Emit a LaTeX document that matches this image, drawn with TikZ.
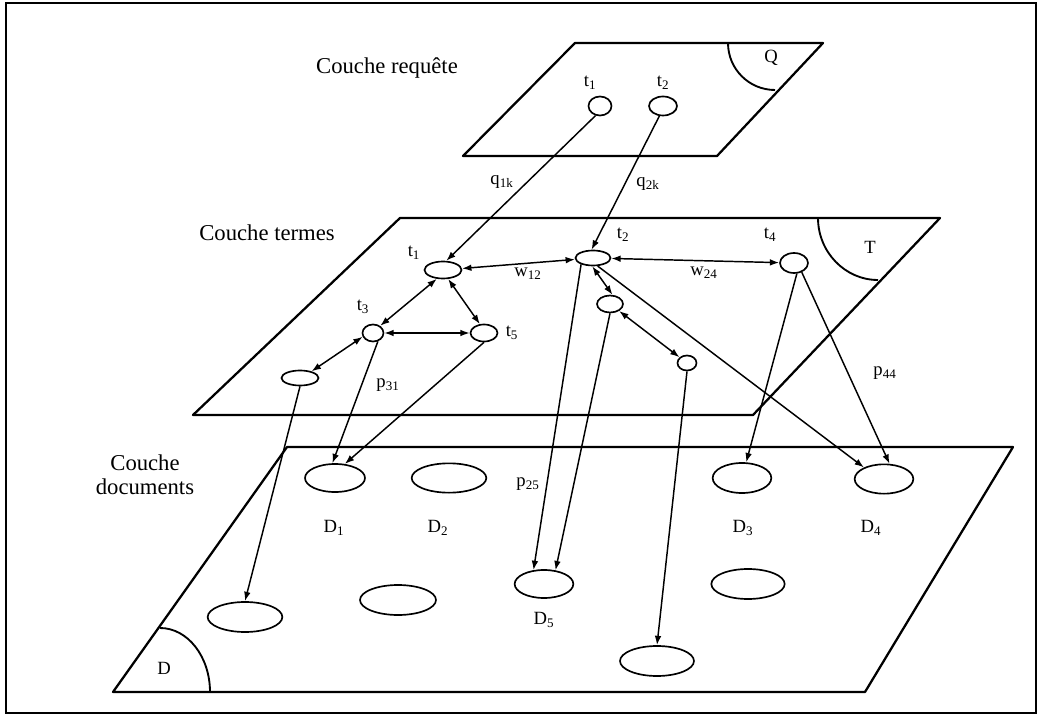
\documentclass[tikz,border=0pt]{standalone}
\usepackage{fontspec}
\setmainfont{Liberation Serif}
\usetikzlibrary{shapes.geometric,arrows.meta}
\begin{document}
\begin{tikzpicture}[x=0.75pt,y=-0.75pt,
  plane/.style={line width=1.7pt, line join=round},
  corner/.style={line width=1.4pt},
  node/.style={ellipse, draw, line width=1.25pt, inner sep=0pt, fill=white},
  sz/.style 2 args={minimum width=#1pt, minimum height=#2pt},
  tip/.tip={Latex[length=7pt,width=5pt]},
  link/.style={line width=1.1pt, -tip},
  both/.style={line width=1.1pt, tip-tip},
  layer/.style={font=\fontsize{17}{18}\selectfont, align=center, inner sep=0pt},
  lbl/.style={font=\fontsize{14}{16}\selectfont, inner sep=0pt},
]
% page and frame
\useasboundingbox (0,0) rectangle (1042,716);
\fill[white] (0,0) rectangle (1042,716);
\draw[line width=1.5pt] (6,3) rectangle (1036,713);

% the three layers
\draw[plane] (463,156) -- (717,156) -- (823,43) -- (575,43) -- cycle;
\draw[plane] (193,415) -- (753,415) -- (940,218) -- (400,218) -- cycle;
\draw[plane] (113,692) -- (865,692) -- (1013,447) -- (287,447) -- cycle;

% corner marks of the layers
\draw[corner] (728,43) .. controls (728,69) and (749,90) .. (775,90);
\draw[corner] (818,218) .. controls (818,252) and (845,280) .. (878,280);
\draw[corner] (160,628) .. controls (188,628) and (210,657) .. (210,692);
\node[lbl] (Q) at (771,58) {Q};
\node[lbl] (T) at (870,247) {T};
\node[lbl] (D) at (164,668) {D};

% layer names
\node[layer] (Lq) at (387,68) {Couche requête};
\node[layer] (Lt) at (267,233) {Couche termes};
\node[layer] (Ld) at (145,475) {Couche\\documents};

% query layer
\node[node, sz={17.25}{14.25}] (q1) at (600,106) {};
\node[node, sz={21}{14.25}] (q2) at (663,106) {};
\node[lbl] (lq1) at (590,83) {t\textsubscript{1}};
\node[lbl] (lq2) at (663,83) {t\textsubscript{2}};

% term layer
\node[node, sz={27.75}{12.75}] (t1) at (443,270) {};
\node[node, sz={26.25}{11.25}] (t2) at (593,258) {};
\node[node, sz={21}{15}] (t4) at (794,263) {};
\node[node, sz={15.75}{12.75}] (t3) at (373,333) {};
\node[node, sz={20.25}{12.75}] (t5) at (484,333) {};
\node[node, sz={27.75}{11.25}] (t6) at (300,378) {};
\node[node, sz={19.5}{12.75}] (t7) at (610,304) {};
\node[node, sz={14.25}{11.25}] (t8) at (687,363) {};
\node[lbl] (lt1) at (414,253) {t\textsubscript{1}};
\node[lbl] (lt2) at (623,235) {t\textsubscript{2}};
\node[lbl] (lt4) at (770,235) {t\textsubscript{4}};
\node[lbl] (lt3) at (363,307) {t\textsubscript{3}};
\node[lbl] (lt5) at (512,333) {t\textsubscript{5}};

% document layer
\node[node, sz={45}{21}] (D1) at (335,478) {};
\node[node, sz={56}{22}] (D2) at (449,478) {};
\node[node, sz={44}{22.5}] (D3) at (742,478) {};
\node[node, sz={44}{22}] (D4) at (884,479) {};
\node[node, sz={44}{21}] (D5) at (544,584) {};
\node[node, sz={56}{22.5}] (d6) at (245,617) {};
\node[node, sz={57}{22.5}] (d7) at (398,600) {};
\node[node, sz={55}{22.5}] (d8) at (748,584) {};
\node[node, sz={55.5}{22.5}] (d9) at (657,661) {};
\node[lbl] (lD1) at (334,528) {D\textsubscript{1}};
\node[lbl] (lD2) at (438,528) {D\textsubscript{2}};
\node[lbl] (lD3) at (743,528) {D\textsubscript{3}};
\node[lbl] (lD4) at (871,528) {D\textsubscript{4}};
\node[lbl] (lD5) at (544,620) {D\textsubscript{5}};

% weights
\node[lbl] (wq1) at (502,182) {q\textsubscript{1k}};
\node[lbl] (wq2) at (648,184) {q\textsubscript{2k}};
\node[lbl] (w12) at (528,274) {w\textsubscript{12}};
\node[lbl] (w24) at (704,273) {w\textsubscript{24}};
\node[lbl] (p31) at (388,385) {p\textsubscript{31}};
\node[lbl] (p44) at (885,373) {p\textsubscript{44}};
\node[lbl] (p25) at (528,484) {p\textsubscript{25}};

% query terms to index terms
\draw[link] (q1.-115) -- (t1.70);
\draw[link] (q2.-110) -- (t2.100);

% relations between terms
\draw[both] (t1) -- (t2);
\draw[both] (t2) -- (t4);
\draw[both] (t1.235) -- (t3.45);
\draw[both] (t1.-60) -- (t5.115);
\draw[both] (t3) -- (t5);
\draw[both] (t6.30) -- (t3.200);
\draw[both] (t2.-95) -- (t7.75);
\draw[both] (t7) -- (t8);

% terms to documents
\draw[link] (t2.-60) -- (D4.150);
\draw[link] (t2.208) -- (D5.127);
\draw[link] (t7.south) -- (D5.50);
\draw[link] (t8.south) -- (d9.north);
\draw[link] (t4.-75) -- (D3.75);
\draw[link] (t4.-50) -- (D4.70);
\draw[link] (t3.-60) -- (D1.100);
\draw[link] (t5.south) -- (D1.55);
\draw[link] (t6.south) -- (d6.north);
\end{tikzpicture}
\end{document}
